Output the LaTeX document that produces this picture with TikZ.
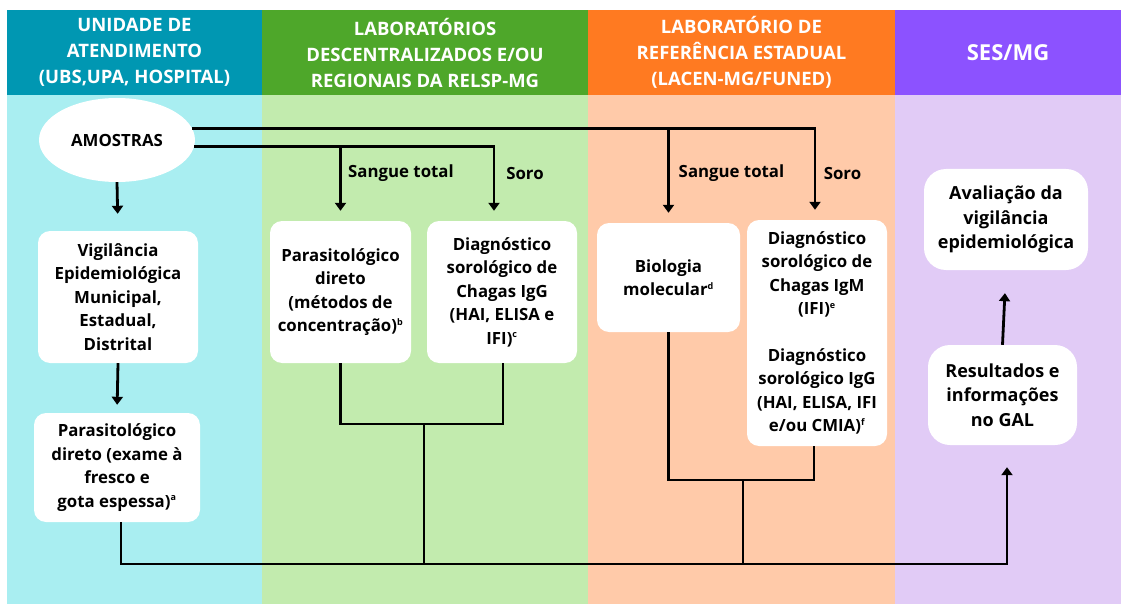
\documentclass[tikz,border=0pt]{standalone}
\usepackage{fontspec}
\setmainfont{Open Sans}
\usetikzlibrary{shapes.geometric,arrows.meta}
\definecolor{h1}{HTML}{0097B2}
\definecolor{h2}{HTML}{4EA72A}
\definecolor{h3}{HTML}{FF7A21}
\definecolor{h4}{HTML}{8C52FF}
\definecolor{b1}{HTML}{A9EEF1}
\definecolor{b2}{HTML}{C2EBAE}
\definecolor{b3}{HTML}{FFCAA9}
\definecolor{b4}{HTML}{E1CBF6}
\newcommand{\sps}[1]{\textsuperscript{\fontsize{9}{9}\selectfont #1}}
\begin{document}
\begin{tikzpicture}[x=1pt,y=-1pt,
  hdr/.style={text=white,font=\fontsize{18.5}{26}\selectfont\bfseries,align=center},
  box/.style={fill=white,rounded corners=12,align=center,inner sep=0pt,
    font=\fontsize{16.8}{23.5}\selectfont\bfseries},
  bigbox/.style={box,rounded corners=22,font=\fontsize{18}{24.5}\selectfont\bfseries},
  lbl/.style={font=\fontsize{16.8}{20}\selectfont\bfseries,inner sep=0pt},
  conn/.style={line width=2.8pt},
  arr/.style={conn,-{Triangle[length=8pt,width=11pt]}}]
\useasboundingbox (0,0) rectangle (1121,604);
\fill[white] (0,0) rectangle (1121,604);
% columns
\fill[h1] (7,10) rectangle (262,95);
\fill[h2] (262,10) rectangle (588,95);
\fill[h3] (588,10) rectangle (895,95);
\fill[h4] (895,10) rectangle (1121,95);
\fill[b1] (7,95) rectangle (262,604);
\fill[b2] (262,95) rectangle (588,604);
\fill[b3] (588,95) rectangle (895,604);
\fill[b4] (895,95) rectangle (1121,604);
\node[hdr] (t1) at (134.5,52.5) {UNIDADE DE\\ATENDIMENTO\\(UBS,UPA, HOSPITAL)};
\node[hdr] (t2) at (425,52.5) {LABORATÓRIOS\\DESCENTRALIZADOS E/OU\\REGIONAIS DA RELSP-MG};
\node[hdr] (t3) at (741.5,52.5) {LABORATÓRIO DE\\REFERÊNCIA ESTADUAL\\(LACEN-MG/FUNED)};
\node[hdr,font=\fontsize{22}{26}\selectfont\bfseries] (t4) at (1008,52.5) {SES/MG};
% nodes
\node[ellipse,fill=white,minimum width=156,minimum height=84,inner sep=0pt,
  font=\fontsize{16.8}{20}\selectfont\bfseries] (amostras) at (117,140) {AMOSTRAS};
\node[box,minimum width=160,minimum height=132] (vig) at (118,297)
  {Vigilância\\Epidemiológica\\Municipal,\\Estadual,\\Distrital};
\node[box,minimum width=166,minimum height=109] (para) at (117,467.5)
  {Parasitológico\\direto (exame à\\fresco e\\gota espessa)\sps{a}};
\node[box,minimum width=141,minimum height=142] (pd) at (340.5,292)
  {Parasitológico\\direto\\(métodos de\\concentração)\sps{b}};
\node[box,minimum width=150,minimum height=142] (dsc) at (502,292)
  {Diagnóstico\\sorológico de\\Chagas IgG\\(HAI, ELISA e\\IFI)\sps{c}};
\node[box,minimum width=143,minimum height=109] (bio) at (668.5,277.5)
  {Biologia\\molecular\sps{d}};
\node[box,minimum width=140,minimum height=226] (dig) at (817,333)
  {Diagnóstico\\sorológico de\\Chagas IgM\\(IFI)\sps{e}\\[23pt]Diagnóstico\\sorológico IgG\\(HAI, ELISA, IFI\\e/ou CMIA)\sps{f}};
\node[bigbox,minimum width=164,minimum height=101] (aval) at (1006,219.5)
  {Avaliação da\\vigilância\\epidemiológica};
\node[bigbox,minimum width=149,minimum height=100] (res) at (1002.5,395)
  {Resultados e\\informações\\no GAL};
% labels
\node[lbl] (st2) at (401,173) {Sangue total};
\node[lbl] (so2) at (525,173) {Soro};
\node[lbl] (st3) at (731.5,173) {Sangue total};
\node[lbl] (so3) at (842.5,173) {Soro};
% connectors
\coordinate (bus) at (0,564);
\coordinate (j2) at (424,424);
\coordinate (j3) at (743,480);
\draw[arr,shorten >=17pt] (amostras.south) -- (vig.north);
\draw[arr,shorten >=8pt] (vig.south) -- (para.north);
\draw[arr,shorten >=10pt] (amostras.9) -| ([xshift=-2pt]dig.north);
\draw[arr,shorten >=10pt] (amostras.9 -| bio.north) -- (bio.north);
\draw[arr,shorten >=10pt] (amostras.-5) -| ([xshift=-8pt]dsc.north);
\draw[arr,shorten >=10pt] (amostras.-5 -| pd.north) -- (pd.north);
\draw[conn] (pd.south) -- (pd.south |- j2) -| ([xshift=1pt]dsc.south);
\draw[conn] (bio.south) -- (bio.south |- j3) -| ([xshift=-3pt]dig.south);
\draw[conn] (j2) -- (j2 |- bus);
\draw[conn] (j3) -- (j3 |- bus);
\draw[arr,shorten >=22pt] ([xshift=4pt]para.south) |- ([xshift=4.5pt]res.south |- bus) -- ([xshift=4.5pt]res.south);
\draw[arr,shorten >=23pt] (res.north) -- (aval.south);
\end{tikzpicture}
\end{document}
